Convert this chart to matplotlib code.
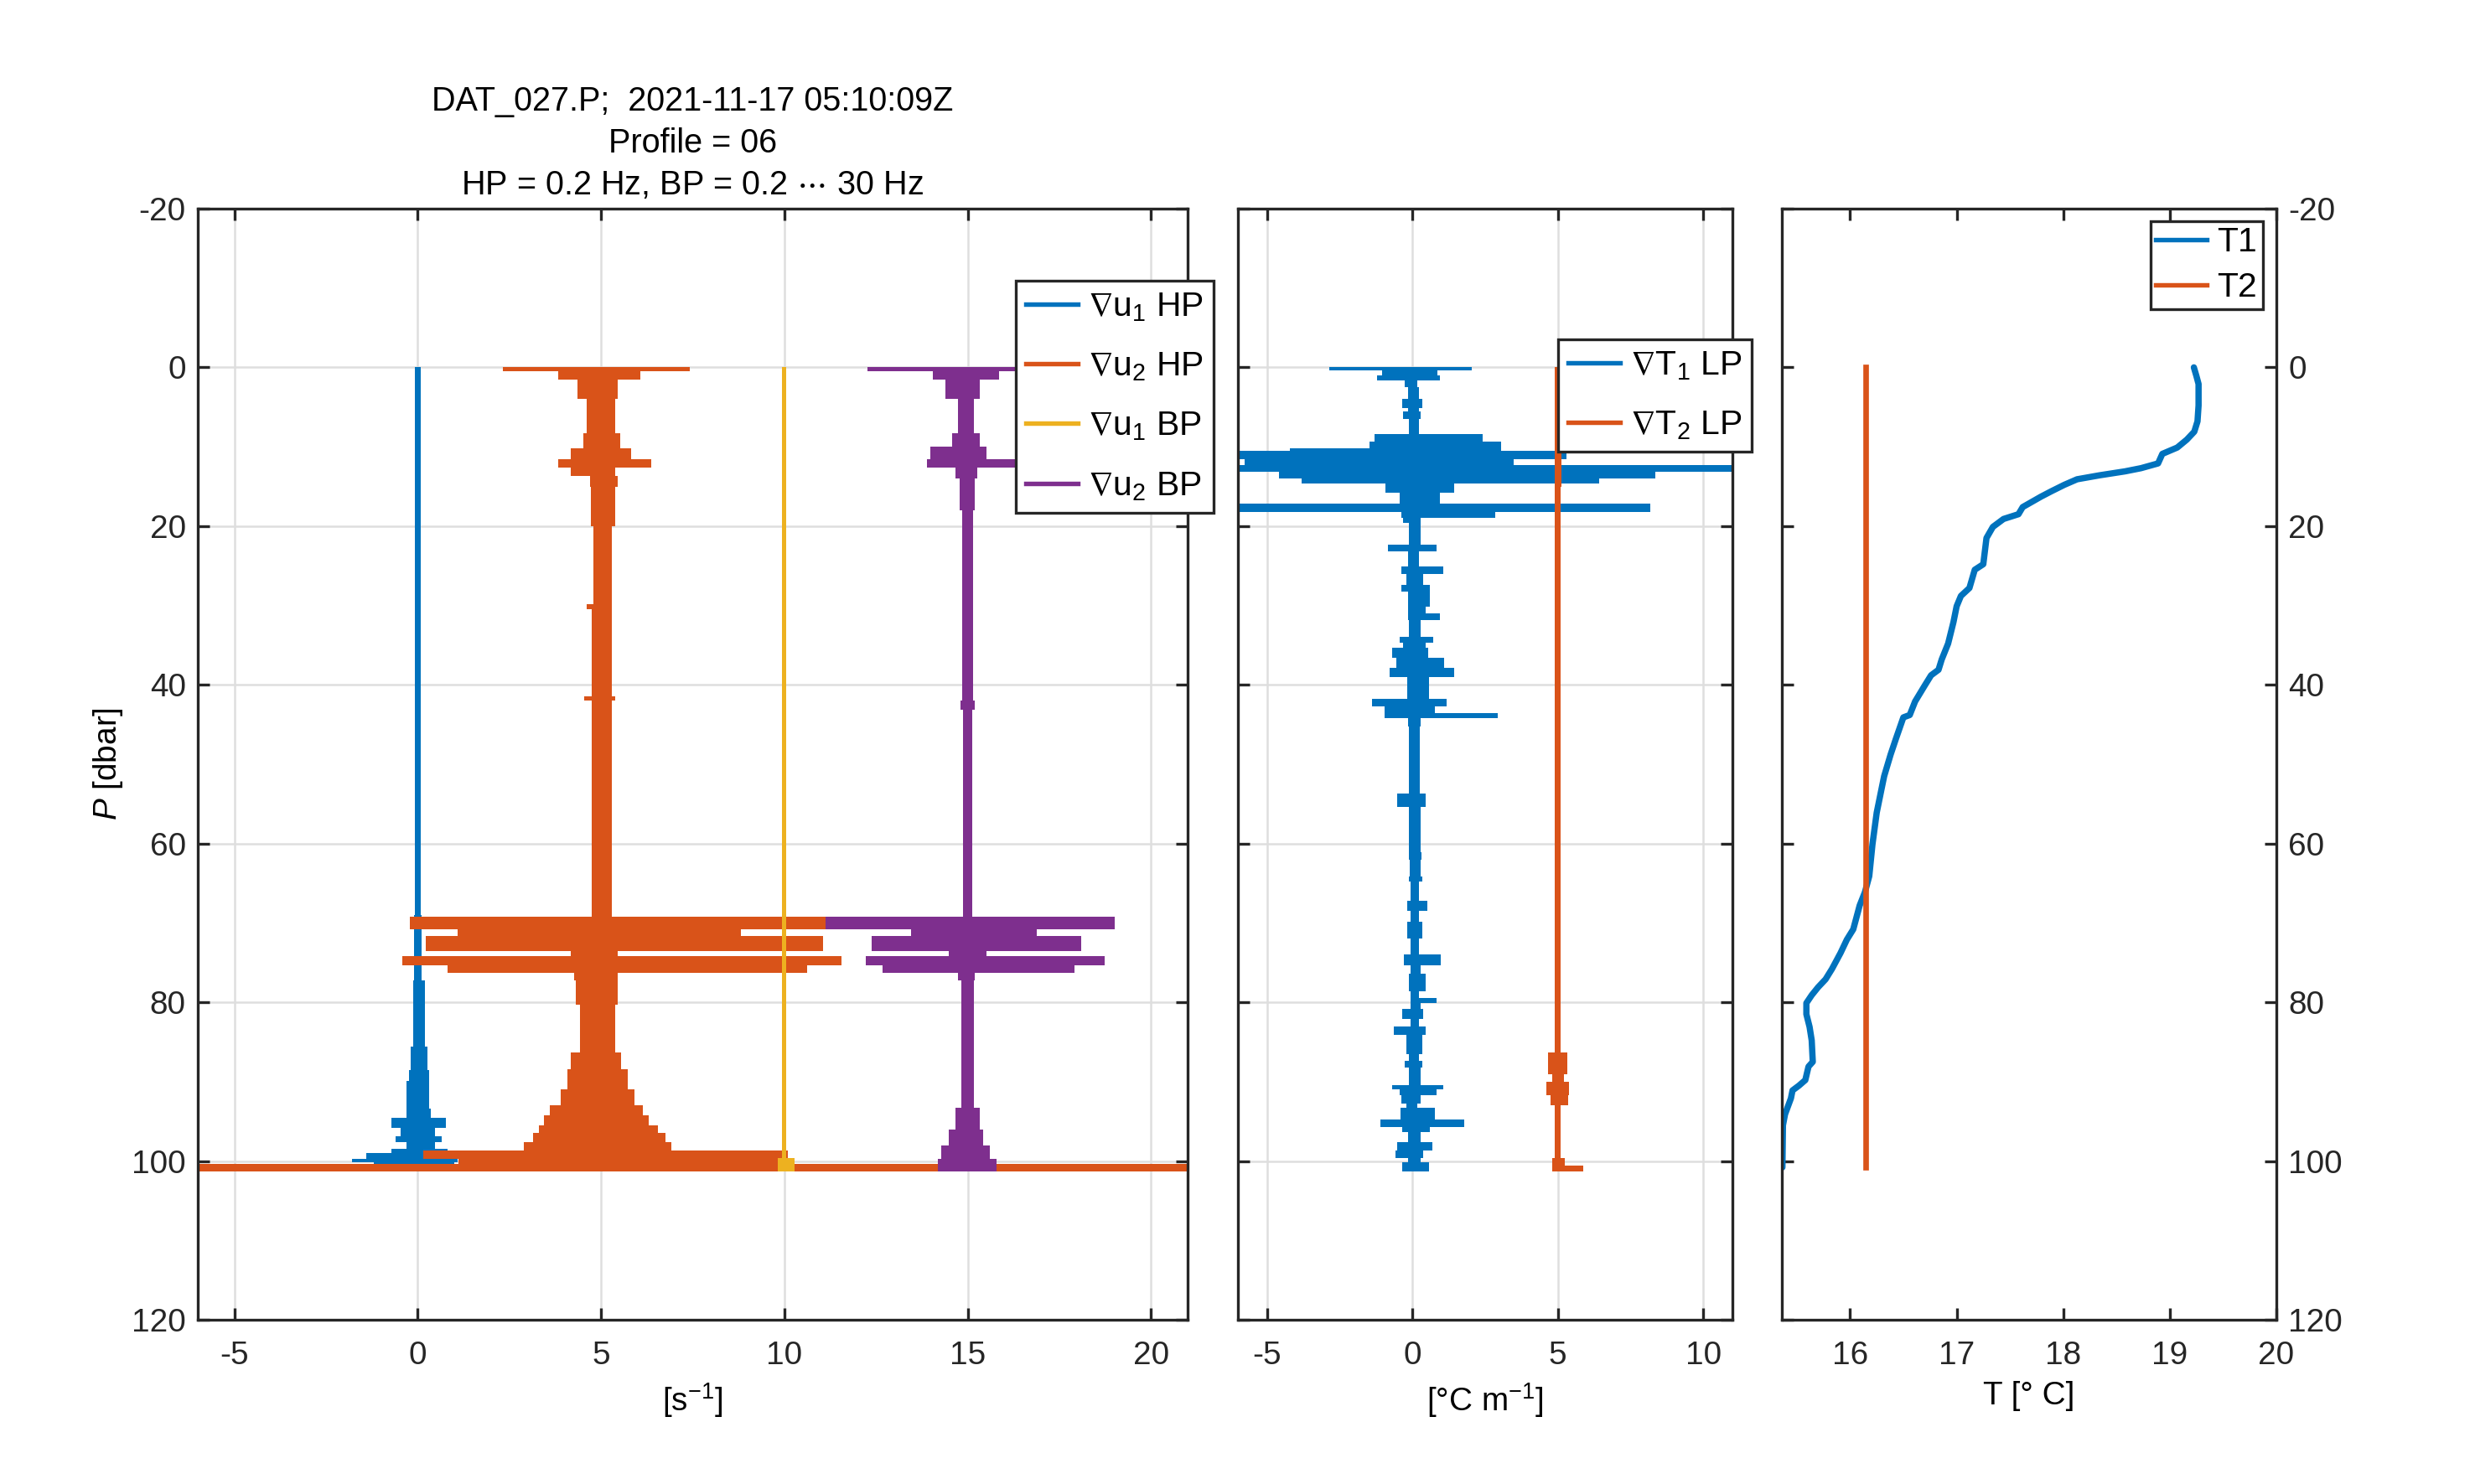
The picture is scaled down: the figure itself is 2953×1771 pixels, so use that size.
import numpy as np
import matplotlib
matplotlib.use('Agg')
import matplotlib.pyplot as plt
from matplotlib.lines import Line2D

plt.rcParams['font.family'] = ['Liberation Sans', 'DejaVu Sans']
plt.rcParams['mathtext.fontset'] = 'custom'
plt.rcParams['mathtext.rm'] = 'Liberation Sans'
plt.rcParams['mathtext.it'] = 'Liberation Sans:italic'
plt.rcParams['mathtext.bf'] = 'Liberation Sans:bold'
plt.rcParams['mathtext.sf'] = 'Liberation Sans'
plt.rcParams['mathtext.fallback'] = 'stixsans'
plt.rcParams['axes.unicode_minus'] = False

BLUE = '#0072BD'
ORANGE = '#D95319'
YELLOW = '#EDB120'
PURPLE = '#7E2F8E'
AXCOL = '#262626'

# ---- panel 1: shear traces (offset 0 / 5 / 10 / 15), read as envelope blocks
# edges = pressure [dbar] where a block starts, lo/hi = min/max of the trace in that block
u1hp_edges = [0, 69, 77.2, 85.6, 88.5, 89.9, 93.4, 94.6, 95.8, 96.9, 97.6, 98.5, 99.0, 99.7, 100.2, 101.3]
u1hp_lo = [-0.08, -0.1, -0.12, -0.2, -0.24, -0.3, -0.3, -0.72, -0.46, -0.6, -0.3, -0.72, -1.41, -1.8, -1.2]
u1hp_hi = [0.08, 0.1, 0.19, 0.26, 0.3, 0.32, 0.36, 0.77, 0.48, 0.65, 0.48, 0.82, 1.17, 1.08, 1.0]

u2hp_edges = [0, 0.5, 1.5, 4, 8.3, 10.2, 11.6, 12.6, 13.7, 15.1, 20, 29.8, 30.5, 41.4, 42, 69.2,
              70.8, 71.6, 73.5, 74.2, 75.3, 76.3, 77.2, 80.3, 86.3, 88.4, 91.0, 93, 94.2, 95.5,
              96.5, 97.6, 98.7, 99.7, 100.4, 101.3]
u2hp_lo = [2.32, 3.83, 4.35, 4.6, 4.52, 4.18, 3.83, 4.18, 4.69, 4.72, 4.78, 4.6, 4.74, 4.55, 4.74,
           -0.21, 1.08, 0.22, 4.18, -0.43, 0.82, 4.26, 4.31, 4.43, 4.18, 4.09, 3.9, 3.6, 3.45, 3.3,
           3.15, 2.89, 0.14, 1.1, -6.5]
u2hp_hi = [7.41, 6.07, 5.46, 5.38, 5.52, 5.81, 6.37, 5.38, 5.46, 5.38, 5.29, 5.29, 5.29, 5.38, 5.29,
           11.13, 8.81, 11.05, 5.46, 11.56, 10.62, 5.46, 5.46, 5.38, 5.55, 5.72, 5.9, 6.15, 6.3,
           6.55, 6.75, 6.92, 10.1, 9.9, 21.5]

u1bp_edges = [0, 99.6, 101.3]
u1bp_lo = [9.94, 9.82]
u1bp_hi = [10.06, 10.28]

u2bp_edges = [0, 0.5, 1.5, 4, 8.3, 10, 11.6, 12.6, 14, 18, 42, 43.1, 69.2, 70.8, 71.6, 73.5, 74.2,
              75.3, 76.3, 77.2, 93.3, 96, 98, 99.7, 101.3]
u2bp_lo = [12.27, 14.06, 14.4, 14.74, 14.57, 13.97, 13.88, 14.66, 14.79, 14.86, 14.8, 14.88, 11.13,
           13.45, 12.39, 14.48, 12.22, 12.68, 14.74, 14.83, 14.66, 14.48, 14.28, 14.18]
u2bp_hi = [16.3, 15.86, 15.34, 15.17, 15.34, 15.52, 16.6, 15.26, 15.2, 15.14, 15.2, 15.12, 19.0,
           16.89, 18.09, 15.52, 18.73, 17.92, 15.2, 15.17, 15.34, 15.43, 15.6, 15.78]

# ---- panel 2: temperature gradients (offset 0 / 5)
dT1_edges = [0, 0.4, 1.0, 1.6, 2.5, 4.0, 5.1, 5.5, 6.5, 8.4, 9.3, 10.2, 10.5, 11.6, 12.3, 13.2, 14.0,
             14.6, 15.8, 17.2, 18.2, 19.0, 19.6, 22.3, 23.2, 25.1, 26.0, 27.4, 28.2, 30.2, 31.0,
             31.8, 34.0, 34.7, 35.3, 36.6, 37.9, 39.0, 41.8, 42.7, 43.6, 44.2, 45.3, 53.7, 55.4,
             61.1, 62.0, 64.2, 64.8, 67.2, 68.5, 69.8, 72.0, 74.0, 75.3, 76.4, 78.6, 79.5, 80.1,
             80.8, 82.1, 83.0, 84.1, 86.5, 87.4, 88.2, 90.4, 91.0, 91.7, 92.8, 93.3, 94.8, 95.7,
             96.3, 97.6, 98.7, 99.6, 100.2, 101.3]
dT1_lo = [-2.86, -1.04, -1.23, -0.27, -0.16, -0.35, -0.16, -0.33, -0.11, -1.31, -1.47, -4.2, -6.5,
          -5.78, -6.5, -4.58, -3.82, -0.93, -0.44, -6.5, -0.38, -0.33, -0.11, -0.85, -0.16, -0.38,
          -0.22, -0.38, -0.16, -0.16, -0.16, -0.11, -0.44, -0.33, -0.69, -0.55, -0.79, -0.19, -1.4,
          -0.96, -0.96, -0.14, -0.11, -0.52, -0.11, -0.11, -0.08, -0.11, -0.05, -0.19, -0.05, -0.19,
          -0.05, -0.29, -0.05, -0.11, -0.05, -0.05, -0.05, -0.35, -0.05, -0.65, -0.22, -0.11, -0.27,
          -0.11, -0.69, -0.44, -0.38, -0.22, -0.41, -1.09, -0.35, -0.16, -0.52, -0.58, -0.16, -0.35]
dT1_hi = [2.05, 0.87, 0.93, 0.16, 0.22, 0.33, 0.22, 0.27, 0.22, 2.4, 3.05, 3.05, 5.3, 3.49, 11.5,
          8.34, 6.43, 1.42, 0.93, 8.18, 2.86, 0.27, 0.27, 0.84, 0.22, 1.06, 0.38, 0.6, 0.6, 0.44,
          0.93, 0.27, 0.71, 0.44, 0.55, 1.09, 1.42, 0.58, 1.17, 0.76, 2.92, 0.27, 0.24, 0.44, 0.27,
          0.31, 0.27, 0.35, 0.22, 0.51, 0.22, 0.35, 0.22, 0.98, 0.27, 0.44, 0.22, 0.82, 0.27, 0.38,
          0.22, 0.44, 0.33, 0.22, 0.33, 0.27, 1.06, 0.82, 0.27, 0.16, 0.76, 1.77, 0.6, 0.27, 0.68,
          0.38, 0.27, 0.57]

dT2_edges = [0, 10, 15, 86.3, 89.1, 90, 91.7, 93, 99.6, 100.6, 101.3]
dT2_lo = [4.89, 4.89, 4.9, 4.67, 4.8, 4.59, 4.75, 4.9, 4.8, 4.8]
dT2_hi = [5.11, 5.13, 5.1, 5.33, 5.22, 5.37, 5.35, 5.1, 5.24, 5.87]

# ---- panel 3: temperature profiles
T1_p = [0, 1.1, 2.1, 4.8, 6.8, 8.1, 9.1, 10.1, 10.9, 12.1, 12.7, 13.1, 13.6, 14.1, 14.8, 15.6, 16.3,
        17.6, 18.5, 19.1, 20.1, 21.5, 24.8, 25.5, 27.8, 28.8, 30.1, 32.1, 34.8, 36.8, 38.1, 38.8,
        40.1, 42.1, 43.8, 44.1, 46.8, 48.8, 51.5, 52.8, 56.1, 60.1, 64.1, 66.1, 67.8, 68.8, 70.8,
        72.1, 73.8, 75.8, 77.1, 78.1, 79.1, 80.1, 81.5, 83.1, 84.8, 87.5, 88.1, 89.8, 90.5, 91.1,
        92.1, 94.1, 95.5, 100.8]
T1 = [19.226, 19.25, 19.27, 19.27, 19.26, 19.23, 19.16, 19.07, 18.93, 18.89, 18.73, 18.58, 18.34,
      18.13, 18.01, 17.89, 17.79, 17.62, 17.58, 17.44, 17.34, 17.28, 17.25, 17.17, 17.12, 17.04,
      17.00, 16.97, 16.92, 16.86, 16.83, 16.76, 16.70, 16.61, 16.56, 16.50, 16.43, 16.38, 16.32,
      16.30, 16.25, 16.21, 16.18, 16.14, 16.09, 16.07, 16.03, 15.97, 15.91, 15.83, 15.77, 15.70,
      15.64, 15.59, 15.59, 15.62, 15.64, 15.65, 15.61, 15.58, 15.52, 15.46, 15.445, 15.39, 15.37,
      15.365]
T2_p = [0, 100.8]
T2 = [16.15, 16.15]

title_lines = ['DAT_027.P;  2021-11-17 05:10:09Z', 'Profile = 06',
               r'HP = 0.2 Hz, BP = 0.2 $\cdots$ 30 Hz']


def draw_trace(ax, edges, lo, hi, color):
    # envelope of a dense zig-zag trace, drawn as constant blocks between edges
    y = np.asarray(edges, dtype=float)
    x1 = np.append(lo, lo[-1])
    x2 = np.append(hi, hi[-1])
    ax.fill_betweenx(y, x1, x2, step='post', color=color, lw=0)


def style_axes(ax, grid=True):
    for s in ax.spines.values():
        s.set_color(AXCOL)
        s.set_linewidth(0.8)
    ax.tick_params(direction='in', length=3.4, width=0.8, colors=AXCOL, labelsize=9.3,
                   top=True, right=True, left=True, bottom=True)
    ax.tick_params(axis='x', pad=6)
    ax.tick_params(axis='y', pad=3.4)
    ax.set_ylim(120, -20)
    ax.set_yticks(np.arange(-20, 121, 20))
    if grid:
        ax.grid(True, color='#dedede', lw=0.6)
        ax.set_axisbelow(True)


def make_legend(ax, handles, labels, x, y, fig, spacing=0.8, bpad=0.3):
    leg = ax.legend(handles, labels, loc='upper left', bbox_to_anchor=(x / 2953, 1 - y / 1771),
                    bbox_transform=fig.transFigure, fontsize=9.8, frameon=True, fancybox=False,
                    framealpha=1, edgecolor=AXCOL, borderpad=bpad, handlelength=1.5,
                    handletextpad=0.3, labelspacing=spacing, borderaxespad=0)
    leg.get_frame().set_linewidth(0.8)
    return leg


W, H = 2953, 1771
fig = plt.figure(figsize=(W / 300, H / 300), dpi=300)
top, bot = 249, 1575
ax1 = fig.add_axes([236 / W, 1 - bot / H, (1417 - 236) / W, (bot - top) / H])
ax2 = fig.add_axes([1477 / W, 1 - bot / H, (2067 - 1477) / W, (bot - top) / H])
ax3 = fig.add_axes([2126 / W, 1 - bot / H, (2716 - 2126) / W, (bot - top) / H])

# panel 1
style_axes(ax1)
draw_trace(ax1, u1hp_edges, u1hp_lo, u1hp_hi, BLUE)
draw_trace(ax1, u2hp_edges, u2hp_lo, u2hp_hi, ORANGE)
draw_trace(ax1, u1bp_edges, u1bp_lo, u1bp_hi, YELLOW)
draw_trace(ax1, u2bp_edges, u2bp_lo, u2bp_hi, PURPLE)
ax1.set_xlim(-6, 21)
ax1.set_xticks([-5, 0, 5, 10, 15, 20])
ax1.set_xlabel(r'[s$^{-1}$]', fontsize=9.3, labelpad=3)
ax1.set_ylabel(r'$P$ [dbar]', fontsize=9.3, labelpad=2)
ax1.set_title('\n'.join(title_lines), fontsize=9.5, pad=4, linespacing=1.4)
h1 = [Line2D([], [], color=c, lw=1.3) for c in (BLUE, ORANGE, YELLOW, PURPLE)]
make_legend(ax1, h1, [r'$\nabla$u$_1$ HP', r'$\nabla$u$_2$ HP', r'$\nabla$u$_1$ BP',
                      r'$\nabla$u$_2$ BP'], 1212, 335, fig)

# panel 2
style_axes(ax2)
draw_trace(ax2, dT1_edges, dT1_lo, dT1_hi, BLUE)
draw_trace(ax2, dT2_edges, dT2_lo, dT2_hi, ORANGE)
ax2.set_xlim(-6, 11)
ax2.set_xticks([-5, 0, 5, 10])
ax2.tick_params(labelleft=False)
ax2.set_xlabel(r'[°C m$^{-1}$]', fontsize=9.3, labelpad=3)
h2 = [Line2D([], [], color=c, lw=1.3) for c in (BLUE, ORANGE)]
make_legend(ax2, h2, [r'$\nabla$T$_1$ LP', r'$\nabla$T$_2$ LP'], 1859, 405, fig)

# panel 3
style_axes(ax3, grid=False)
ax3.plot(T1, T1_p, color=BLUE, lw=1.8, solid_capstyle='round')
ax3.plot(T2, T2_p, color=ORANGE, lw=1.6)
ax3.set_xlim(15.36, 20)
ax3.set_xticks([16, 17, 18, 19, 20])
ax3.tick_params(labelleft=False, labelright=True)
ax3.set_xlabel('T [° C]', fontsize=9.3, labelpad=3)
h3 = [Line2D([], [], color=c, lw=1.3) for c in (BLUE, ORANGE)]
make_legend(ax3, h3, ['T1', 'T2'], 2566, 264, fig, spacing=0.4, bpad=0.15)

fig.savefig('out.png', dpi=300, facecolor='white')
